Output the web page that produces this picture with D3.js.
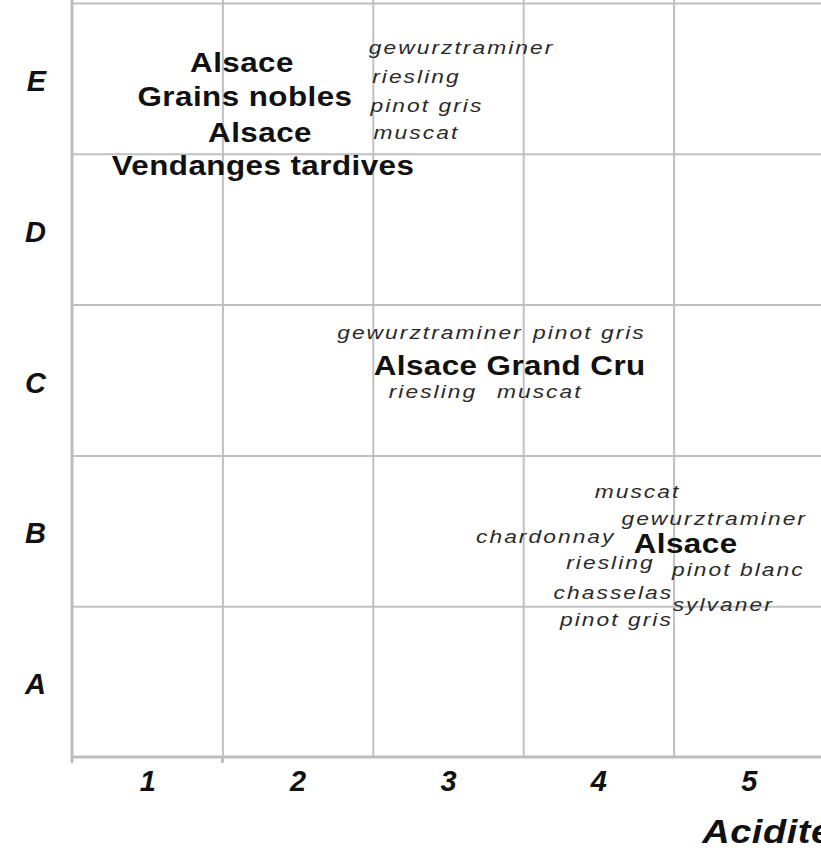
<!DOCTYPE html>
<head>
<meta charset="utf-8">
<style type="text/css">
body { margin: 0; background: #fff; }
svg { display: block; font-family: "Liberation Sans", Arial, sans-serif; }
.grid line { stroke: #c0c0c0; stroke-width: 2; }
.grid path { display: none; }
.axe { stroke: #bdbdbd; stroke-width: 3; }
.labels path, .labels line { display: none; }
.labels text { font-size: 29px; font-weight: bold; font-style: italic; fill: #111; }
.appellation { font-size: 28px; font-weight: bold; fill: #111; letter-spacing: 0.4px; }
.cepage { font-size: 19px; font-style: italic; fill: #2a2a2a; letter-spacing: 1.7px; }
.titre { font-size: 33px; font-weight: bold; font-style: italic; fill: #111; letter-spacing: 0.5px; }
</style>
</head>
<body>
<script src="https://d3js.org/d3.v7.min.js"></script>
<script type="text/javascript">
  var acidite = [1, 2, 3, 4, 5]; // x ticks
  var niveaux = ['A', 'B', 'C', 'D', 'E']; // y ticks, 1..5

  // bold appellation names (x = acidité, y = niveau, at the text baseline)
  var appellations = ['Alsace', 'Grains nobles', 'Alsace', 'Vendanges tardives', 'Alsace Grand Cru', 'Alsace'];
  var appX = [1.63, 1.65, 1.75, 1.77, 3.41, 4.58];
  var appY = [5.04, 4.82, 4.58, 4.36, 3.03, 1.85];

  // grape varieties in italics
  var cepages = ['gewurztraminer', 'riesling', 'pinot gris', 'muscat',
                 'gewurztraminer', 'pinot gris', 'riesling', 'muscat',
                 'muscat', 'gewurztraminer', 'chardonnay', 'riesling', 'pinot blanc', 'chasselas', 'sylvaner', 'pinot gris'];
  var cepX = [3.09, 2.79, 2.86, 2.79,
              2.88, 3.94, 2.90, 3.61,
              4.26, 4.77, 3.65, 4.08, 4.93, 4.10, 4.83, 4.12];
  var cepY = [5.16, 4.97, 4.78, 4.60,
              3.27, 3.27, 2.88, 2.88,
              2.22, 2.04, 1.92, 1.75, 1.70, 1.55, 1.47, 1.37];

  var bords = [1.5, 2.5, 3.5, 4.5, 5.5]; // cell borders
  var etire = 1.15; // the original text is a bit wider than Arial

  var x = d3.scaleLinear().domain([0.5, 5.5]).range([72, 824]);
  var y = d3.scaleLinear().domain([0.5, 5.5]).range([757, 3]);

  var svg = d3.select('body').append('svg')
          .attr('width', 821)
          .attr('height', 848);

  // vertical grid lines
  svg.append('g').attr('class', 'grid')
          .attr('transform', 'translate(0,' + y(0.5) + ')')
          .call(d3.axisBottom(x).tickValues(bords).tickSize(-y(0.5)).tickFormat(''));

  // horizontal grid lines
  svg.append('g').attr('class', 'grid')
          .attr('transform', 'translate(' + x(0.5) + ',0)')
          .call(d3.axisLeft(y).tickValues(bords).tickSize(x(0.5) - x(5.5)).tickFormat(''));

  // axis lines
  svg.append('line').attr('class', 'axe')
          .attr('x1', x(0.5)).attr('x2', x(0.5))
          .attr('y1', 0).attr('y2', y(0.5) + 6);
  svg.append('line').attr('class', 'axe')
          .attr('x1', x(0.5) - 1).attr('x2', 821)
          .attr('y1', y(0.5)).attr('y2', y(0.5));
  svg.append('line').attr('class', 'axe')
          .attr('x1', x(1.5)).attr('x2', x(1.5))
          .attr('y1', y(0.5)).attr('y2', y(0.5) + 6);

  // tick labels
  svg.append('g').attr('class', 'labels')
          .attr('transform', 'translate(0,' + y(0.5) + ')')
          .call(d3.axisBottom(x).tickValues(acidite).tickSize(0).tickPadding(13).tickFormat(d3.format('d')));

  svg.append('g').attr('class', 'labels')
          .attr('transform', 'translate(' + x(0.5) + ',0)')
          .call(d3.axisLeft(y).tickValues(acidite).tickSize(0).tickPadding(26)
                  .tickFormat(function(d){ return niveaux[d - 1]; }))
          .selectAll('text').attr('dy', '0.42em');

  // axis title, cut by the right edge as in the original
  svg.append('text').attr('class', 'titre')
          .attr('transform', 'translate(' + x(4.69) + ',843) scale(' + etire + ',1)')
          .text('Acidité');

  // appellations
  svg.selectAll('.appellation')
          .data(appellations)
          .enter().append('text')
          .attr('class', 'appellation')
          .attr('text-anchor', 'middle')
          .attr('transform', function(d, i){
            return 'translate(' + x(appX[i]) + ',' + y(appY[i]) + ') scale(1.12,1)';
          })
          .text(function(d){ return d; });

  // cépages
  svg.selectAll('.cepage')
          .data(cepages)
          .enter().append('text')
          .attr('class', 'cepage')
          .attr('text-anchor', 'middle')
          .attr('transform', function(d, i){
            return 'translate(' + x(cepX[i]) + ',' + y(cepY[i]) + ') scale(1.2,1)';
          })
          .text(function(d){ return d; });
</script>
</body>
